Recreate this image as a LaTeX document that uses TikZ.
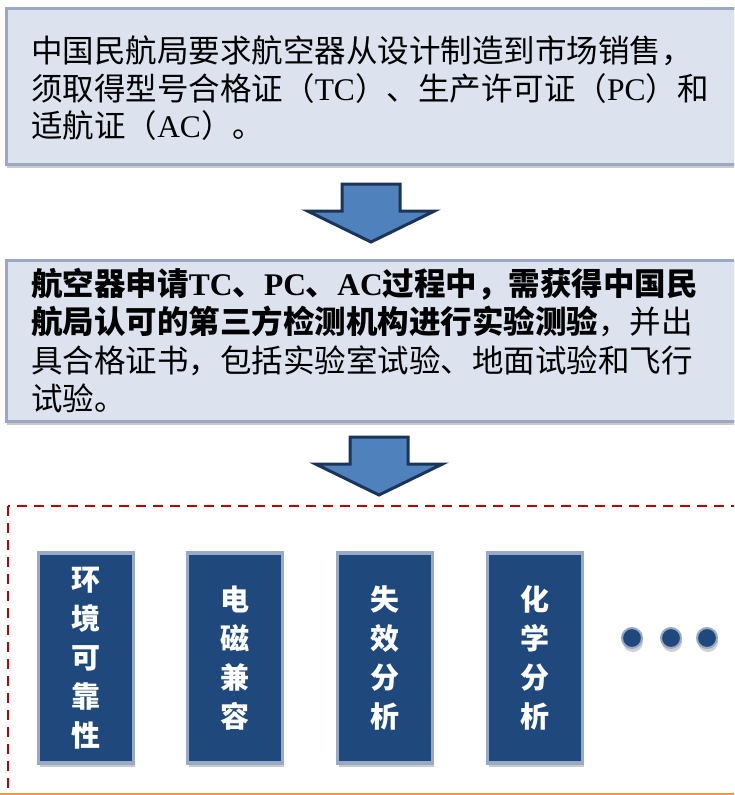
\documentclass[tikz,border=0pt]{standalone}
\usepackage{fontspec}
\setmainfont{Noto Sans CJK SC}
\newfontfamily\tnr{Liberation Serif}
\newcommand{\en}[1]{{\tnr #1}}
\usepackage{xcolor}
\usetikzlibrary{shadows}

\definecolor{panelfill}{HTML}{DCE2EE}
\definecolor{panelline}{HTML}{9AA8C6}
\definecolor{navy}{HTML}{1F497D}
\definecolor{navyline}{HTML}{98AAC8}
\definecolor{arrowfill}{HTML}{4F81BD}
\definecolor{arrowline}{HTML}{1B3558}
\definecolor{dashred}{HTML}{C00000}
\definecolor{footorange}{HTML}{F79646}

\begin{document}
\begin{tikzpicture}[
  x=1pt, y=-1pt,
  infobox/.style  = {draw=panelline, line width=2.5pt, fill=panelfill,
                     anchor=north west, minimum width=745, inner xsep=25,
                     text width=695, align=left,
                     font=\fontsize{31.5}{37.5}\selectfont,
                     drop shadow={shadow xshift=1pt, shadow yshift=-4pt,
                                  opacity=0.35, fill=black!60}},
  testbox/.style  = {draw=navyline, line width=3.5pt, fill=navy, text=white,
                     minimum width=95, minimum height=210, align=center,
                     font=\fontsize{29}{39}\selectfont\bfseries,
                     drop shadow={shadow xshift=1pt, shadow yshift=-4pt,
                                  opacity=0.35, fill=black!60}},
  dotmark/.style  = {circle, draw=navyline, line width=2pt, fill=navy,
                     minimum size=20, inner sep=0pt,
                     drop shadow={shadow xshift=1pt, shadow yshift=-4pt,
                                  opacity=0.3, fill=black!60}},
  blockarrow/.style = {draw=arrowline, line width=3pt, fill=arrowfill,
                       line join=miter},
  frame/.style    = {draw=dashred, line width=2.5pt, dash pattern=on 10pt off 7pt},
  footline/.style = {draw=footorange, line width=1.5pt},
]

\path[use as bounding box, clip] (0,0) rectangle (734,795);

% Row 1: requirement
\node[infobox, minimum height=156] (req) at (5,7)
  {\rule{0pt}{31pt}中国民航局要求航空器从设计制造到市场销售，\\
   须取得型号合格证（\en{TC}）、生产许可证（\en{PC}）和\\
   适航证（\en{AC}）。};

% Row 2: testing process
\node[infobox, minimum height=161,
      font=\fontsize{31.5}{38.5}\selectfont] (proc) at (5,259)
  {{\bfseries 航空器申请\en{TC}、\en{PC}、\en{AC}过程中，需获得中国民}\\
   {\bfseries 航局认可的第三方检测机构进行实验测验}，并出\\
   具合格证书，包括实验室试验、地面试验和飞行\\
   试验。};

% Block arrows between rows
\coordinate (arrA) at (371,184);
\coordinate (arrB) at (379,437);
\foreach \c in {arrA, arrB}
  \draw[blockarrow] (\c) ++(-29,0) -- ++(58,0) -- ++(0,27) -- ++(34.5,0)
    -- ++(-63.5,31) -- ++(-63.5,-31) -- ++(34.5,0) -- cycle;

% Row 3: test categories
\draw[frame] (8,506) rectangle (780,840);

\node[testbox] (env)  at (86,658)  {环\\境\\可\\靠\\性};
\node[testbox] (emc)  at (235,658) {电\\磁\\兼\\容};
\node[testbox] (fail) at (385,658) {失\\效\\分\\析};
\node[testbox] (chem) at (535,658) {化\\学\\分\\析};

\foreach \i/\xx in {1/632, 2/671, 3/707}
  \node[dotmark] (dot\i) at (\xx,638) {};

\draw[footline] (0,794) -- (734,794);

\end{tikzpicture}
\end{document}
